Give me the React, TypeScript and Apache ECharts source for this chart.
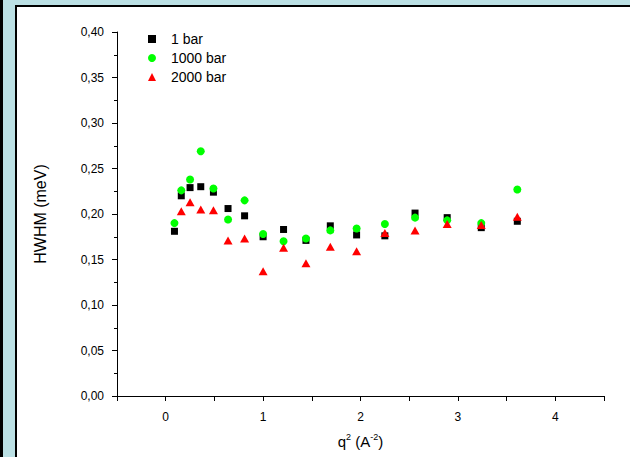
import React, { useEffect, useRef } from "react";
import * as echarts from "echarts";

const q2 = [0.09, 0.16, 0.25, 0.36, 0.49, 0.64, 0.81, 1.0, 1.21, 1.44, 1.69, 1.96, 2.25, 2.56, 2.89, 3.24, 3.61];
const bar1 = [0.181, 0.22, 0.229, 0.23, 0.224, 0.206, 0.198, 0.175, 0.183, 0.171, 0.187, 0.177, 0.176, 0.201, 0.196, 0.185, 0.192];
const bar1000 = [0.19, 0.226, 0.238, 0.269, 0.228, 0.194, 0.215, 0.178, 0.17, 0.173, 0.182, 0.184, 0.189, 0.196, 0.193, 0.19, 0.227];
const bar2000 = [null, 0.203, 0.213, 0.205, 0.204, 0.171, 0.173, 0.137, 0.163, 0.146, 0.164, 0.159, 0.179, 0.182, 0.189, 0.188, 0.197];
const seriesNames = ["1 bar", "1000 bar", "2000 bar"];

const pairs = (ys: (number | null)[]) =>
  q2.map((x, i) => [x, ys[i]]).filter((p) => p[1] !== null);

export default function App() {
  const ref = useRef<HTMLDivElement>(null);
  useEffect(() => {
    if (!ref.current) return;
    const chart = echarts.init(ref.current, undefined, { renderer: "svg" });
    const font = "'Liberation Sans', Arial, sans-serif";
    chart.setOption({
      animation: false,
      backgroundColor: "transparent",
      textStyle: { fontFamily: font, color: "#000" },
      grid: { left: 117, right: 26, top: 32, bottom: 61, containLabel: false },
      legend: {
        orient: "vertical",
        left: 143,
        top: 26,
        itemWidth: 8,
        itemHeight: 8,
        itemGap: 3,
        textStyle: { fontSize: 14, fontFamily: font, color: "#000", padding: [0, 0, 0, 10], lineHeight: 16 },
        data: [
          { name: seriesNames[0], icon: "rect" },
          { name: seriesNames[1], icon: "circle" },
          { name: seriesNames[2], icon: "triangle" },
        ],
      },
      xAxis: {
        type: "value",
        min: -0.5,
        max: 4.5,
        interval: 0.5,
        splitLine: { show: false },
        axisLine: { show: true, onZero: false, lineStyle: { color: "#000", width: 1 } },
        axisTick: { show: true, inside: false, length: 5, lineStyle: { color: "#000" } },
        axisLabel: {
          fontSize: 12,
          fontFamily: font,
          color: "#000",
          margin: 15,
          formatter: (v: number) => (Math.abs(v - Math.round(v)) < 1e-9 && v >= 0 && v <= 4 ? String(Math.round(v)) : ""),
        },
        name: "q{s|2} (A{s|-2})",
        nameLocation: "middle",
        nameGap: 36,
        nameTextStyle: {
          fontSize: 15,
          fontFamily: font,
          color: "#000",
          rich: { s: { fontSize: 9, fontFamily: font, color: "#000", padding: [0, 0, 9, 0] } },
        },
      },
      yAxis: {
        type: "value",
        min: 0,
        max: 0.4,
        interval: 0.05,
        splitLine: { show: false },
        axisLine: { show: true, onZero: false, lineStyle: { color: "#000", width: 1 } },
        axisTick: { show: true, inside: false, length: 5, lineStyle: { color: "#000" } },
        minorTick: { show: true, splitNumber: 2, length: 3, lineStyle: { color: "#000" } },
        axisLabel: {
          fontSize: 12,
          fontFamily: font,
          color: "#000",
          margin: 13,
          formatter: (v: number) => v.toFixed(2).replace(".", ","),
        },
        name: "HWHM (meV)",
        nameLocation: "middle",
        nameGap: 69,
        nameTextStyle: { fontSize: 16, fontFamily: font, color: "#000" },
      },
      series: [
        {
          name: seriesNames[0],
          type: "scatter",
          symbol: "rect",
          symbolSize: 7,
          itemStyle: { color: "#000000", opacity: 1 },
          data: pairs(bar1),
          z: 2,
        },
        {
          name: seriesNames[1],
          type: "scatter",
          symbol: "circle",
          symbolSize: 8,
          itemStyle: { color: "#00ff00", opacity: 1 },
          data: pairs(bar1000),
          z: 3,
        },
        {
          name: seriesNames[2],
          type: "scatter",
          symbol: "triangle",
          symbolSize: [9, 8],
          itemStyle: { color: "#ff0000", opacity: 1 },
          data: pairs(bar2000),
          z: 4,
        },
      ],
    });
    return () => chart.dispose();
  }, []);

  return (
    <div style={{ position: "fixed", left: 0, top: 0, width: 630, height: 457, background: "#bbe0e4", overflow: "hidden" }}>
      <div style={{ position: "absolute", left: 0, top: 0, width: 3, height: 457, background: "#000" }} />
      <div
        style={{
          position: "absolute",
          left: 15,
          top: 5,
          width: 615,
          height: 452,
          background: "#fff",
          borderTop: "2px solid #000",
          borderLeft: "2px solid #000",
          boxSizing: "border-box",
        }}
      />
      <div ref={ref} style={{ position: "absolute", left: 0, top: 0, width: 630, height: 457 }} />
    </div>
  );
}
